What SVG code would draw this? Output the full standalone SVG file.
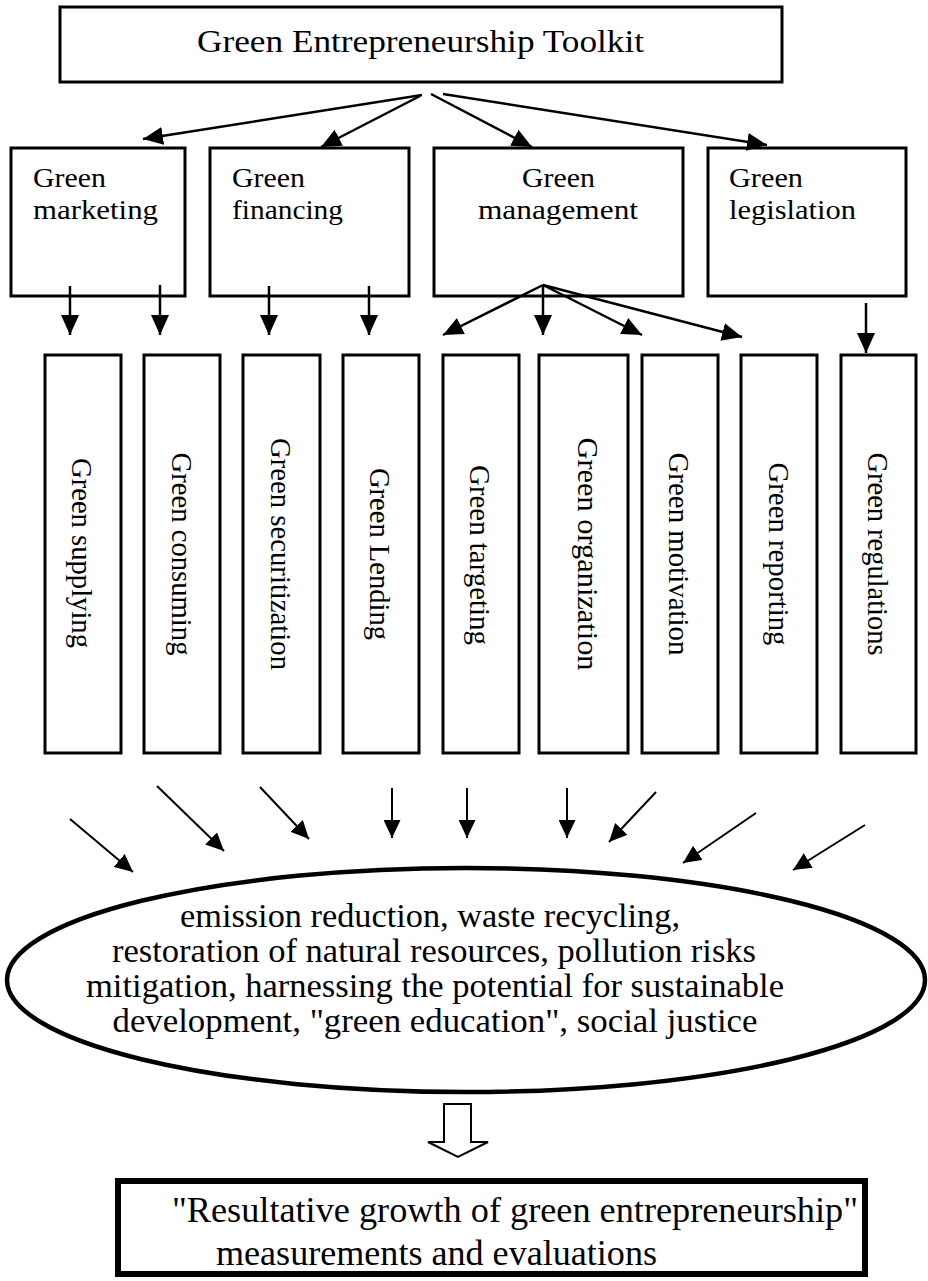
<svg xmlns="http://www.w3.org/2000/svg" width="928" height="1281" viewBox="0 0 928 1281">
<style>
.box{fill:#fff;stroke:#000;stroke-width:3}
.t{font-family:"Liberation Serif","Times New Roman",serif;fill:#000}
.lbl{font-size:27px}
.vt{font-size:28.7px;text-anchor:middle}
.el{font-size:34px;text-anchor:middle}
.ln{stroke:#000;stroke-width:2.5;fill:none}
.ln2{stroke:#000;stroke-width:2;fill:none}
</style>
<defs>
<marker id="ah" markerUnits="userSpaceOnUse" markerWidth="21" markerHeight="19" refX="20" refY="9" orient="auto">
<path d="M0,0 L20,9 L0,18 z" fill="#000"/>
</marker>
<marker id="ah2" markerUnits="userSpaceOnUse" markerWidth="19" markerHeight="17" refX="18" refY="8.5" orient="auto">
<path d="M0,0 L18,8.5 L0,17 z" fill="#000"/>
</marker>
</defs>
<rect width="928" height="1281" fill="#fff"/>

<g id="toolkit">
<rect class="box" x="60" y="7" width="722" height="75"/>
<text class="t" x="197" y="52" font-size="31" textLength="447" lengthAdjust="spacingAndGlyphs">Green Entrepreneurship Toolkit</text>
</g>

<g id="marketing">
<rect class="box" x="11" y="148" width="174" height="148"/>
<text class="t lbl" x="33" y="187" textLength="73" lengthAdjust="spacingAndGlyphs">Green</text>
<text class="t lbl" x="33" y="219" textLength="125" lengthAdjust="spacingAndGlyphs">marketing</text>
</g>
<g id="financing">
<rect class="box" x="210" y="148" width="199" height="148"/>
<text class="t lbl" x="232" y="187" textLength="73" lengthAdjust="spacingAndGlyphs">Green</text>
<text class="t lbl" x="232" y="219" textLength="111" lengthAdjust="spacingAndGlyphs">financing</text>
</g>
<g id="management">
<rect class="box" x="434" y="148" width="249" height="148"/>
<text class="t lbl" x="522" y="187" textLength="73" lengthAdjust="spacingAndGlyphs">Green</text>
<text class="t lbl" x="478" y="219" textLength="160" lengthAdjust="spacingAndGlyphs">management</text>
</g>
<g id="legislation">
<rect class="box" x="708" y="148" width="198" height="148"/>
<text class="t lbl" x="729" y="187" textLength="74" lengthAdjust="spacingAndGlyphs">Green</text>
<text class="t lbl" x="729" y="219" textLength="127" lengthAdjust="spacingAndGlyphs">legislation</text>
</g>

<g id="supplying">
<rect class="box" x="45" y="355" width="76" height="398"/>
<text class="t vt" transform="translate(81,553) rotate(90)" y="9.5" textLength="190" lengthAdjust="spacingAndGlyphs">Green supplying</text>
</g>
<g id="consuming">
<rect class="box" x="144" y="355" width="76" height="398"/>
<text class="t vt" transform="translate(181,554) rotate(90)" y="9.5" textLength="203" lengthAdjust="spacingAndGlyphs">Green consuming</text>
</g>
<g id="securitization">
<rect class="box" x="243" y="355" width="77" height="398"/>
<text class="t vt" transform="translate(280,554) rotate(90)" y="9.5" textLength="232" lengthAdjust="spacingAndGlyphs">Green securitization</text>
</g>
<g id="lending">
<rect class="box" x="343" y="355" width="76" height="398"/>
<text class="t vt" transform="translate(379,554) rotate(90)" y="9.5" textLength="172" lengthAdjust="spacingAndGlyphs">Green Lending</text>
</g>
<g id="targeting">
<rect class="box" x="443" y="355" width="76" height="398"/>
<text class="t vt" transform="translate(479,555) rotate(90)" y="9.5" textLength="180" lengthAdjust="spacingAndGlyphs">Green targeting</text>
</g>
<g id="organization">
<rect class="box" x="539" y="355" width="89" height="398"/>
<text class="t vt" transform="translate(588,554) rotate(90)" y="10" font-size="30" textLength="233" lengthAdjust="spacingAndGlyphs">Green organization</text>
</g>
<g id="motivation">
<rect class="box" x="642" y="355" width="76" height="398"/>
<text class="t vt" transform="translate(678,554) rotate(90)" y="9.5" textLength="203" lengthAdjust="spacingAndGlyphs">Green motivation</text>
</g>
<g id="reporting">
<rect class="box" x="741" y="355" width="76" height="398"/>
<text class="t vt" transform="translate(778,554) rotate(90)" y="9.5" textLength="183" lengthAdjust="spacingAndGlyphs">Green reporting</text>
</g>
<g id="regulations">
<rect class="box" x="841" y="355" width="75" height="398"/>
<text class="t vt" transform="translate(877,554) rotate(90)" y="9.5" textLength="203" lengthAdjust="spacingAndGlyphs">Green regulations</text>
</g>

<g id="outcomes">
<ellipse cx="466" cy="980" rx="459" ry="112" fill="#fff" stroke="#000" stroke-width="4.5"/>
<text class="t el" x="430" y="927" textLength="500" lengthAdjust="spacingAndGlyphs">emission reduction, waste recycling,</text>
<text class="t el" x="434" y="962" textLength="644" lengthAdjust="spacingAndGlyphs">restoration of natural resources, pollution risks</text>
<text class="t el" x="435" y="997" textLength="698" lengthAdjust="spacingAndGlyphs">mitigation, harnessing the potential for sustainable</text>
<text class="t el" x="435" y="1032" textLength="645" lengthAdjust="spacingAndGlyphs">development,  "green education", social justice</text>
</g>

<g id="result">
<rect x="118" y="1181" width="747" height="93" fill="#fff" stroke="#000" stroke-width="6"/>
<text class="t" x="172" y="1222" font-size="36" textLength="686" lengthAdjust="spacingAndGlyphs">"Resultative growth of green entrepreneurship"</text>
<text class="t" x="216" y="1265" font-size="36" textLength="441" lengthAdjust="spacingAndGlyphs">measurements and evaluations</text>
</g>

<g id="connectors">
<line class="ln" x1="422" y1="95" x2="143" y2="139" marker-end="url(#ah)"/>
<line class="ln" x1="420" y1="96" x2="321" y2="147" marker-end="url(#ah)"/>
<line class="ln" x1="431" y1="94" x2="532" y2="147" marker-end="url(#ah)"/>
<line class="ln" x1="443" y1="94" x2="767" y2="145" marker-end="url(#ah)"/>

<line class="ln" x1="70" y1="286" x2="70" y2="335" marker-end="url(#ah)"/>
<line class="ln" x1="160" y1="285" x2="160" y2="335" marker-end="url(#ah)"/>
<line class="ln" x1="269" y1="286" x2="269" y2="335" marker-end="url(#ah)"/>
<line class="ln" x1="369" y1="286" x2="369" y2="335" marker-end="url(#ah)"/>
<line class="ln" x1="543" y1="285" x2="443" y2="335" marker-end="url(#ah)"/>
<line class="ln" x1="543" y1="285" x2="543" y2="335" marker-end="url(#ah)"/>
<line class="ln" x1="543" y1="285" x2="642" y2="335" marker-end="url(#ah)"/>
<line class="ln" x1="543" y1="285" x2="742" y2="337" marker-end="url(#ah)"/>
<line class="ln" x1="866" y1="303" x2="866" y2="353" marker-end="url(#ah)"/>

<line class="ln2" x1="70" y1="819" x2="133" y2="872" marker-end="url(#ah2)"/>
<line class="ln2" x1="157" y1="786" x2="224" y2="851" marker-end="url(#ah2)"/>
<line class="ln2" x1="260" y1="787" x2="309" y2="839" marker-end="url(#ah2)"/>
<line class="ln2" x1="392" y1="788" x2="392" y2="838" marker-end="url(#ah2)"/>
<line class="ln2" x1="467" y1="788" x2="467" y2="838" marker-end="url(#ah2)"/>
<line class="ln2" x1="567" y1="788" x2="567" y2="838" marker-end="url(#ah2)"/>
<line class="ln2" x1="656" y1="792" x2="609" y2="842" marker-end="url(#ah2)"/>
<line class="ln2" x1="756" y1="813" x2="683" y2="863" marker-end="url(#ah2)"/>
<line class="ln2" x1="865" y1="825" x2="793" y2="870" marker-end="url(#ah2)"/>

<polygon points="444,1104 471,1104 471,1142 488,1142 458,1157 428,1142 444,1142" fill="#fff" stroke="#000" stroke-width="2"/>
</g>
</svg>
